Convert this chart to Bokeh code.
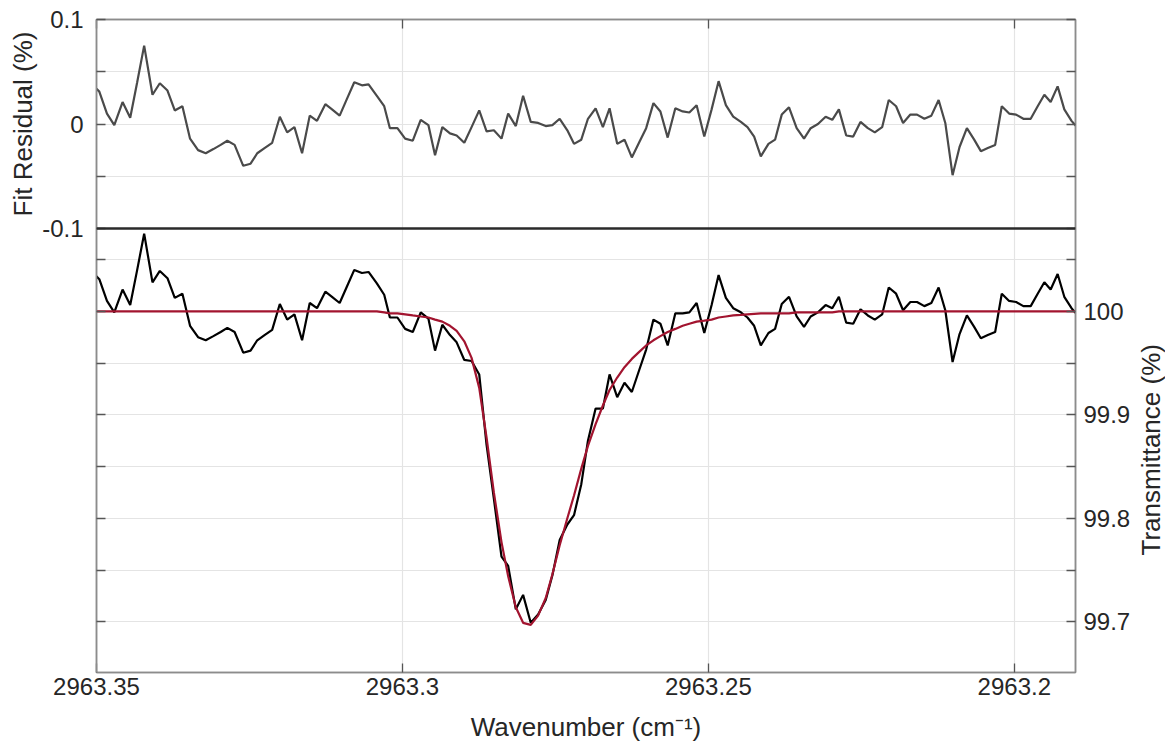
from bokeh.plotting import figure
from bokeh.layouts import row
from bokeh.models import Range1d, FixedTicker, LinearAxis, Span, Grid, Title
from bokeh.embed import file_html
from bokeh.resources import INLINE

# ---------------- data ----------------
wavenumber = [
    2963.35073, 2963.34954, 2963.34829, 2963.34709, 2963.34574, 2963.34449, 2963.34335, 2963.34221, 2963.34085, 2963.33965,
    2963.33840, 2963.33721, 2963.33596, 2963.33471, 2963.33340, 2963.33215, 2963.33090, 2963.32971, 2963.32862, 2963.32743,
    2963.32602, 2963.32482, 2963.32373, 2963.32254, 2963.32129, 2963.32004, 2963.31884, 2963.31765, 2963.31640, 2963.31515,
    2963.31396, 2963.31260, 2963.31151, 2963.31026, 2963.30907, 2963.30787, 2963.30662, 2963.30554, 2963.30418, 2963.30298,
    2963.30205, 2963.30082, 2963.29956, 2963.29831, 2963.29701, 2963.29576, 2963.29467, 2963.29348, 2963.29223, 2963.29114,
    2963.28989, 2963.28870, 2963.28745, 2963.28625, 2963.28506, 2963.28381, 2963.28272, 2963.28147, 2963.28028, 2963.27903,
    2963.27783, 2963.27658, 2963.27549, 2963.27430, 2963.27305, 2963.27196, 2963.27077, 2963.26968, 2963.26843, 2963.26724,
    2963.26615, 2963.26490, 2963.26371, 2963.26251, 2963.26126, 2963.26017, 2963.25898, 2963.25784, 2963.25665, 2963.25540,
    2963.25420, 2963.25311, 2963.25192, 2963.25067, 2963.24947, 2963.24833, 2963.24714, 2963.24594, 2963.24469, 2963.24361,
    2963.24252, 2963.24143, 2963.24018, 2963.23910, 2963.23801, 2963.23682, 2963.23557, 2963.23437, 2963.23328, 2963.23209,
    2963.23084, 2963.22975, 2963.22867, 2963.22747, 2963.22633, 2963.22514, 2963.22394, 2963.22280, 2963.22160, 2963.22052,
    2963.21932, 2963.21818, 2963.21699, 2963.21590, 2963.21470, 2963.21356, 2963.21237, 2963.21128, 2963.21009, 2963.20895,
    2963.20775, 2963.20656, 2963.20547, 2963.20433, 2963.20313, 2963.20205, 2963.20085, 2963.19971, 2963.19852, 2963.19732,
    2963.19618, 2963.19509, 2963.19406, 2963.19292, 2963.19183, 2963.19065, 2963.18947,
]

fit_residual = [
    0.038, 0.031, 0.010, -0.001, 0.021, 0.006, 0.040, 0.075, 0.028, 0.039,
    0.032, 0.013, 0.017, -0.014, -0.025, -0.028, -0.024, -0.020, -0.016, -0.020,
    -0.040, -0.038, -0.028, -0.023, -0.018, 0.007, -0.008, -0.003, -0.028, 0.008,
    0.003, 0.019, 0.014, 0.008, 0.024, 0.040, 0.037, 0.038, 0.027, 0.017,
    -0.004, -0.004, -0.014, -0.016, 0.004, -0.001, -0.030, -0.003, -0.009, -0.011,
    -0.018, -0.003, 0.013, -0.007, -0.006, -0.014, 0.010, -0.002, 0.027, 0.002,
    0.001, -0.002, -0.001, 0.005, -0.006, -0.019, -0.015, 0.005, 0.015, -0.003,
    0.015, -0.019, -0.015, -0.032, -0.017, -0.004, 0.020, 0.012, -0.013, 0.015,
    0.012, 0.011, 0.018, -0.012, 0.014, 0.041, 0.018, 0.007, 0.002, -0.003,
    -0.012, -0.031, -0.019, -0.015, 0.009, 0.016, -0.004, -0.014, -0.004, 0.000,
    0.007, 0.004, 0.014, -0.011, -0.012, 0.002, -0.004, -0.008, -0.003, 0.023,
    0.017, 0.001, 0.009, 0.009, 0.005, 0.008, 0.023, 0.001, -0.049, -0.022,
    -0.004, -0.015, -0.026, -0.023, -0.020, 0.017, 0.010, 0.009, 0.005, 0.005,
    0.017, 0.028, 0.021, 0.036, 0.014, 0.003, -0.005,
]

transmittance = [
    100.038, 100.031, 100.010, 99.999, 100.021, 100.006, 100.040, 100.075, 100.028, 100.039,
    100.032, 100.013, 100.017, 99.986, 99.975, 99.972, 99.976, 99.980, 99.984, 99.980,
    99.960, 99.962, 99.972, 99.977, 99.982, 100.007, 99.992, 99.997, 99.972, 100.008,
    100.003, 100.019, 100.014, 100.008, 100.024, 100.040, 100.037, 100.038, 100.027, 100.016,
    99.994, 99.994, 99.983, 99.980, 99.999, 99.993, 99.962, 99.987, 99.977, 99.970,
    99.953, 99.952, 99.939, 99.871, 99.819, 99.763, 99.754, 99.712, 99.726, 99.699,
    99.707, 99.721, 99.745, 99.779, 99.794, 99.803, 99.833, 99.875, 99.906, 99.906,
    99.939, 99.917, 99.931, 99.922, 99.944, 99.963, 99.992, 99.988, 99.967, 99.998,
    99.998, 99.999, 100.008, 99.979, 100.006, 100.035, 100.013, 100.003, 99.999, 99.994,
    99.986, 99.967, 99.979, 99.983, 100.007, 100.014, 99.995, 99.985, 99.995, 99.999,
    100.006, 100.003, 100.014, 99.989, 99.988, 100.002, 99.996, 99.992, 99.997, 100.023,
    100.017, 100.001, 100.009, 100.009, 100.005, 100.008, 100.023, 100.001, 99.951, 99.978,
    99.996, 99.985, 99.974, 99.977, 99.980, 100.017, 100.010, 100.009, 100.005, 100.005,
    100.017, 100.028, 100.021, 100.036, 100.014, 100.003, 99.995,
]

fit_transmittance = [
    100.000, 100.000, 100.000, 100.000, 100.000, 100.000, 100.000, 100.000, 100.000, 100.000,
    100.000, 100.000, 100.000, 100.000, 100.000, 100.000, 100.000, 100.000, 100.000, 100.000,
    100.000, 100.000, 100.000, 100.000, 100.000, 100.000, 100.000, 100.000, 100.000, 100.000,
    100.000, 100.000, 100.000, 100.000, 100.000, 100.000, 100.000, 100.000, 100.000, 99.999,
    99.998, 99.998, 99.997, 99.996, 99.995, 99.994, 99.992, 99.990, 99.986, 99.981,
    99.971, 99.955, 99.926, 99.878, 99.825, 99.777, 99.744, 99.714, 99.699, 99.697,
    99.706, 99.723, 99.746, 99.774, 99.800, 99.822, 99.848, 99.870, 99.891, 99.909,
    99.924, 99.936, 99.946, 99.954, 99.961, 99.967, 99.972, 99.976, 99.980, 99.983,
    99.986, 99.988, 99.990, 99.991, 99.992, 99.994, 99.995, 99.996, 99.9965, 99.997,
    99.9975, 99.998, 99.998, 99.998, 99.998, 99.998, 99.999, 99.999, 99.999, 99.999,
    99.999, 99.999, 100.000, 100.000, 100.000, 100.000, 100.000, 100.000, 100.000, 100.000,
    100.000, 100.000, 100.000, 100.000, 100.000, 100.000, 100.000, 100.000, 100.000, 100.000,
    100.000, 100.000, 100.000, 100.000, 100.000, 100.000, 100.000, 100.000, 100.000, 100.000,
    100.000, 100.000, 100.000, 100.000, 100.000, 100.000, 100.000,
]

x_ticks = [2963.35, 2963.3, 2963.25, 2963.2]
x_tick_labels = ["2963.35", "2963.3", "2963.25", "2963.2"]
res_ticks = [-0.1, -0.05, 0.0, 0.05, 0.1]
res_tick_labels = ["-0.1", "", "0", "", "0.1"]
tr_ticks = [99.7, 99.75, 99.8, 99.85, 99.9, 99.95, 100.0, 100.05]
tr_tick_labels = ["99.7", "", "99.8", "", "99.9", "", "100", ""]

x_limits = (2963.35, 2963.19)
res_limits = (-0.1, 0.1)
tr_limits = (99.651, 100.080)

# ---------------- layout / style ----------------
BORDER_L, BORDER_R, BORDER_T, BORDER_B = 96, 55, 19, 77
FRAME_W = 982
TOP_H, BOT_H = 209, 444          # pixel heights of the two stacked panels
SIDE_W = 32                      # strip holding the right-hand title
HEIGHT = BORDER_T + TOP_H + BOT_H + BORDER_B

FONT = "Liberation Sans"
TICK_PX = "24px"
LABEL_PX = "26px"
LINE_GRAY = "#8c8c8c"
TICK_COLOR = "#555555"
TEXT = "#262626"
GRID = "#e4e4e4"
RED = "#A2142F"

# both panels share one frame; each panel gets its own y range
tr_span = tr_limits[1] - tr_limits[0]
res_span = res_limits[1] - res_limits[0]
tr_full = (tr_limits[0], tr_limits[1] + tr_span * TOP_H / BOT_H)
res_full = (res_limits[0] - res_span * BOT_H / TOP_H, res_limits[1])

p = figure(width=BORDER_L + FRAME_W + BORDER_R, height=HEIGHT,
           x_range=Range1d(*x_limits), y_range=Range1d(*tr_full),
           x_axis_location=None, y_axis_location=None,
           output_backend="svg", toolbar_location=None,
           min_border_left=BORDER_L, min_border_right=BORDER_R,
           min_border_top=BORDER_T, min_border_bottom=BORDER_B,
           background_fill_color="white", border_fill_color="white")
p.extra_y_ranges = {"res": Range1d(*res_full)}
p.outline_line_color = LINE_GRAY
p.outline_line_width = 1.5
p.grid.grid_line_color = None


def make_axis(ticks, labels, show=True, **kw):
    ax = LinearAxis(**kw)
    ax.ticker = FixedTicker(ticks=ticks)
    ax.major_label_overrides = {t: (l if show else "") for t, l in zip(ticks, labels)}
    ax.major_tick_in = 9
    ax.major_tick_out = 0
    ax.minor_tick_line_color = None
    ax.major_tick_line_color = TICK_COLOR
    ax.major_tick_line_width = 1.3
    ax.axis_line_color = LINE_GRAY
    ax.axis_line_width = 1.5
    ax.major_label_text_font = FONT
    ax.major_label_text_color = TEXT
    ax.major_label_text_font_size = TICK_PX if show else "1px"
    ax.major_label_standoff = 8 if show else 0
    ax.axis_label_text_font = FONT
    ax.axis_label_text_font_size = LABEL_PX
    ax.axis_label_text_font_style = "normal"
    ax.axis_label_text_color = TEXT
    return ax


def make_title(text, **kw):
    return Title(text=text, text_font=FONT, text_font_size=LABEL_PX, text_font_style="normal",
                 text_color=TEXT, **kw)


# left side: inner tick-only axis for the transmittance panel, then the labelled residual axis
p.add_layout(make_axis(tr_ticks, tr_tick_labels, show=False, bounds=tr_limits), "left")
left_res = make_axis(res_ticks, res_tick_labels, y_range_name="res", bounds=res_limits)
left_res.major_label_standoff = 13
p.add_layout(left_res, "left")
# residual axis title, centred on the upper panel
p.add_layout(make_title("Fit Residual (%)", align="right", offset=12, standoff=4,
                        vertical_align="bottom"), "left")

# right side: inner tick-only residual axis, then the labelled transmittance axis
p.add_layout(make_axis(res_ticks, res_tick_labels, show=False, y_range_name="res", bounds=res_limits), "right")
right_tr = make_axis(tr_ticks, tr_tick_labels, bounds=tr_limits)
right_tr.major_label_standoff = 8
p.add_layout(right_tr, "right")

# x axes
bottom_x = make_axis(x_ticks, x_tick_labels, axis_label="Wavenumber (cm\u207b\u00b9)")
bottom_x.major_label_standoff = 5
bottom_x.axis_label_standoff = 14
p.add_layout(bottom_x, "below")
p.add_layout(make_axis(x_ticks, x_tick_labels, show=False), "above")

# grids
p.add_layout(Grid(dimension=0, ticker=FixedTicker(ticks=x_ticks),
                  grid_line_color=GRID, grid_line_width=1.2), "center")
p.add_layout(Grid(dimension=1, ticker=FixedTicker(ticks=tr_ticks),
                  grid_line_color=GRID, grid_line_width=1.2), "center")
p.add_layout(Grid(dimension=1, y_range_name="res", ticker=FixedTicker(ticks=res_ticks[1:-1]),
                  grid_line_color=GRID, grid_line_width=1.2), "center")

# data
p.line(wavenumber, fit_residual, y_range_name="res", line_color="#4a4a4a", line_width=2.2)
p.line(wavenumber, transmittance, line_color="black", line_width=2.2)
p.line(wavenumber, fit_transmittance, line_color=RED, line_width=2.2)

# panel separator
p.add_layout(Span(location=res_limits[0], y_range_name="res", dimension="width",
                  line_color="#2a2a2a", line_width=2.5))

# narrow strip to the right carrying the transmittance title (reads bottom-to-top);
# same top/bottom borders as the main plot so the row does not realign the frames
side = figure(width=SIDE_W, height=HEIGHT, x_axis_location=None, y_axis_location=None,
              output_backend="svg", toolbar_location=None,
              min_border_left=SIDE_W - 1, min_border_right=0,
              min_border_top=BORDER_T, min_border_bottom=BORDER_B,
              background_fill_color="white", border_fill_color="white")
side.outline_line_color = None
side.grid.grid_line_color = None
side.add_layout(make_title("Transmittance (%)", align="left", offset=117, standoff=0,
                           vertical_align="bottom"), "left")

layout = row(p, side, spacing=0)
open("out.html", "w").write(file_html(layout, INLINE))
